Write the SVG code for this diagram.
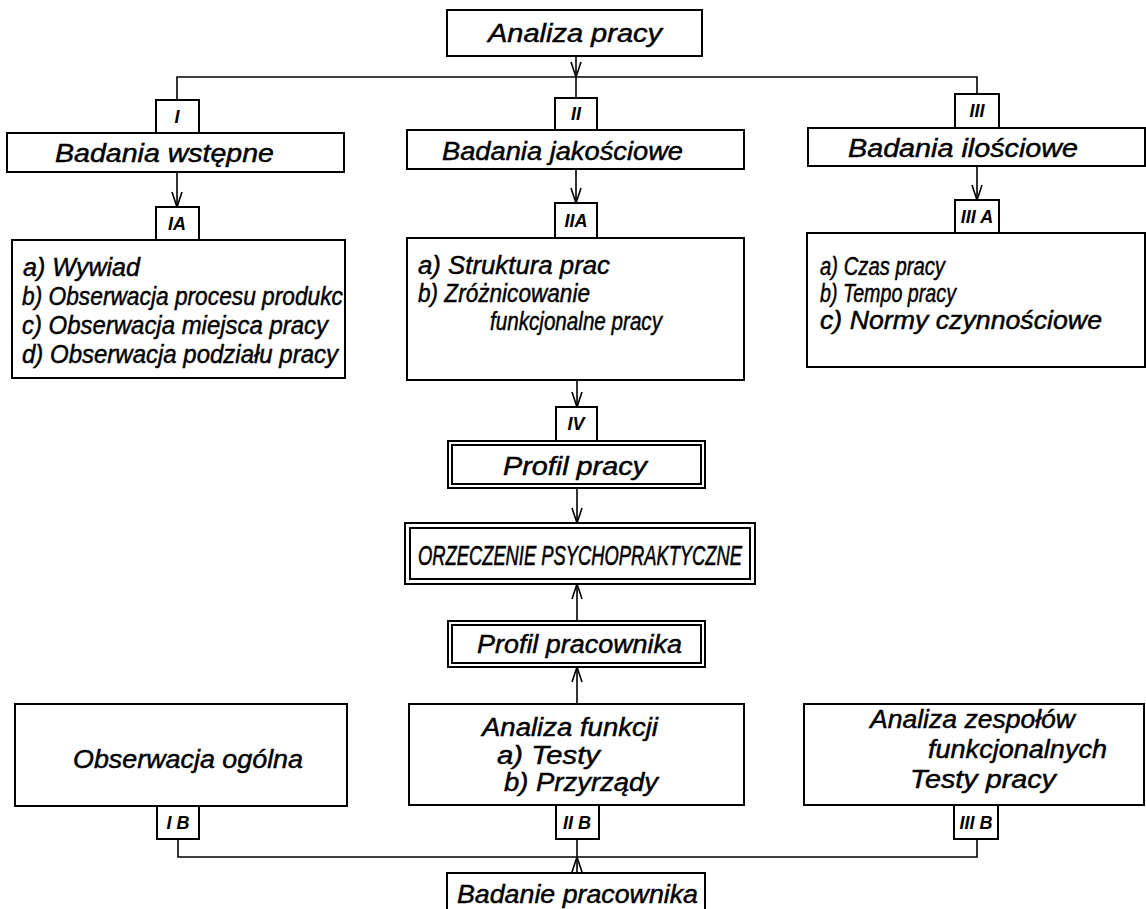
<svg xmlns="http://www.w3.org/2000/svg" width="1146" height="909" viewBox="0 0 1146 909">
<style>
rect{fill:#fff;stroke:#000;stroke-width:2}
.c line,.c polyline{stroke:#000;stroke-width:1.6;fill:none}
text{font-family:"Liberation Sans","DejaVu Sans",sans-serif;font-style:italic;font-size:25px;fill:#000;stroke:#000;stroke-width:0.45}
.t{font-size:18px;font-weight:bold;text-anchor:middle;stroke-width:0}
.m{text-anchor:middle}
.big{font-size:28px;stroke-width:0.6}
</style>
<defs>
<marker id="ar" viewBox="0 0 16 12" refX="16" refY="6" markerWidth="16" markerHeight="12" markerUnits="userSpaceOnUse" orient="auto">
<path d="M1,1 L16,6 L1,11" fill="none" stroke="#000" stroke-width="1.6"/>
</marker>
</defs>
<rect width="1146" height="909" style="stroke:none"/>
<g class="c" id="connectors">
<line x1="576" y1="56" x2="576" y2="77" marker-end="url(#ar)"/>
<polyline points="177,100 177,77 977,77 977,94"/>
<line x1="576" y1="77" x2="576" y2="98"/>
<line x1="177" y1="172" x2="177" y2="207" marker-end="url(#ar)"/>
<line x1="576" y1="169" x2="576" y2="203" marker-end="url(#ar)"/>
<line x1="977" y1="166" x2="977" y2="200" marker-end="url(#ar)"/>
<line x1="577" y1="380" x2="577" y2="407" marker-end="url(#ar)"/>
<line x1="577" y1="488" x2="577" y2="523" marker-end="url(#ar)"/>
<line x1="577" y1="621" x2="577" y2="584" marker-end="url(#ar)"/>
<line x1="577" y1="704" x2="577" y2="667" marker-end="url(#ar)"/>
<polyline points="178,839 178,857 977,857 977,839"/>
<line x1="577" y1="873" x2="577" y2="857" marker-end="url(#ar)"/>
<line x1="577" y1="857" x2="577" y2="839"/>
</g>
<g id="analiza-pracy"><rect x="447" y="10" width="255" height="46"/><text class="m" x="575" y="42" textLength="174" lengthAdjust="spacingAndGlyphs">Analiza pracy</text></g>
<g id="tab-I"><rect x="156" y="100" width="43" height="33"/><text class="t" x="177" y="123">I</text></g>
<g id="tab-II"><rect x="555" y="98" width="42" height="32"/><text class="t" x="576" y="120">II</text></g>
<g id="tab-III"><rect x="955" y="94" width="44" height="34"/><text class="t" x="977" y="117">III</text></g>
<g id="badania-wstepne"><rect x="7" y="133" width="337" height="39"/><text x="55" y="162" textLength="219" lengthAdjust="spacingAndGlyphs">Badania  wstępne</text></g>
<g id="badania-jakosciowe"><rect x="407" y="130" width="337" height="39"/><text x="442" y="160" textLength="241" lengthAdjust="spacingAndGlyphs">Badania  jakościowe</text></g>
<g id="badania-ilosciowe"><rect x="808" y="128" width="337" height="38"/><text x="848" y="157" textLength="230" lengthAdjust="spacingAndGlyphs">Badania  ilościowe</text></g>
<g id="tab-IA"><rect x="156" y="207" width="43" height="33"/><text class="t" x="177" y="230">IA</text></g>
<g id="tab-IIA"><rect x="555" y="203" width="42" height="35"/><text class="t" x="576" y="227">IIA</text></g>
<g id="tab-IIIA"><rect x="955" y="200" width="44" height="33"/><text class="t" x="977" y="223">III A</text></g>
<g id="box-IA"><rect x="12" y="240" width="333" height="138"/>
<text x="23" y="276" textLength="117" lengthAdjust="spacingAndGlyphs">a) Wywiad</text>
<text x="22" y="305" textLength="321" lengthAdjust="spacingAndGlyphs">b)  Obserwacja procesu produkc</text>
<text x="22" y="334" textLength="306" lengthAdjust="spacingAndGlyphs">c)  Obserwacja miejsca pracy</text>
<text x="22" y="363" textLength="316" lengthAdjust="spacingAndGlyphs">d)  Obserwacja podziału pracy</text></g>
<g id="box-IIA"><rect x="407" y="238" width="337" height="142"/>
<text x="418" y="274" textLength="192" lengthAdjust="spacingAndGlyphs">a)  Struktura  prac</text>
<text x="418" y="302" textLength="172" lengthAdjust="spacingAndGlyphs">b)   Zróżnicowanie</text>
<text x="490" y="330" textLength="172" lengthAdjust="spacingAndGlyphs">funkcjonalne pracy</text></g>
<g id="box-IIIA"><rect x="807" y="233" width="338" height="134"/>
<text x="820" y="275" textLength="125" lengthAdjust="spacingAndGlyphs">a)  Czas pracy</text>
<text x="820" y="302" textLength="136" lengthAdjust="spacingAndGlyphs">b)  Tempo pracy</text>
<text x="820" y="329" textLength="282" lengthAdjust="spacingAndGlyphs">c)   Normy  czynnościowe</text></g>
<g id="tab-IV"><rect x="556" y="407" width="41" height="34"/><text class="t" x="576" y="430">IV</text></g>
<g id="profil-pracy"><rect x="448" y="441" width="257" height="47"/><rect x="452" y="445" width="249" height="39"/><text x="503" y="475" textLength="144" lengthAdjust="spacingAndGlyphs">Profil  pracy</text></g>
<g id="orzeczenie"><rect x="405" y="523" width="350" height="61"/><rect x="410" y="528" width="340" height="51"/><text class="big" x="418" y="565" textLength="324" lengthAdjust="spacingAndGlyphs">ORZECZENIE  PSYCHOPRAKTYCZNE</text></g>
<g id="profil-pracownika"><rect x="448" y="621" width="257" height="46"/><rect x="452" y="625" width="249" height="38"/><text x="477" y="653" textLength="205" lengthAdjust="spacingAndGlyphs">Profil  pracownika</text></g>
<g id="obserwacja-ogolna"><rect x="15" y="704" width="332" height="102"/><text x="73" y="768" textLength="230" lengthAdjust="spacingAndGlyphs">Obserwacja  ogólna</text></g>
<g id="analiza-funkcji"><rect x="409" y="704" width="335" height="101"/>
<text x="482" y="736" textLength="176" lengthAdjust="spacingAndGlyphs">Analiza  funkcji</text>
<text x="497" y="764" textLength="103" lengthAdjust="spacingAndGlyphs">a)  Testy</text>
<text x="504" y="791" textLength="154" lengthAdjust="spacingAndGlyphs">b)  Przyrządy</text></g>
<g id="analiza-zespolow"><rect x="804" y="704" width="340" height="101"/>
<text x="870" y="728" textLength="205" lengthAdjust="spacingAndGlyphs">Analiza  zespołów</text>
<text x="928" y="758" textLength="179" lengthAdjust="spacingAndGlyphs">funkcjonalnych</text>
<text x="910" y="788" textLength="146" lengthAdjust="spacingAndGlyphs">Testy  pracy</text></g>
<g id="tab-IB"><rect x="157" y="806" width="42" height="33"/><text class="t" x="178" y="829">I B</text></g>
<g id="tab-IIB"><rect x="556" y="805" width="43" height="34"/><text class="t" x="577" y="829">II B</text></g>
<g id="tab-IIIB"><rect x="954" y="805" width="44" height="34"/><text class="t" x="976" y="829">III B</text></g>
<g id="badanie-pracownika"><rect x="447" y="873" width="258" height="44"/><text x="457" y="903" textLength="241" lengthAdjust="spacingAndGlyphs">Badanie pracownika</text></g>
</svg>
